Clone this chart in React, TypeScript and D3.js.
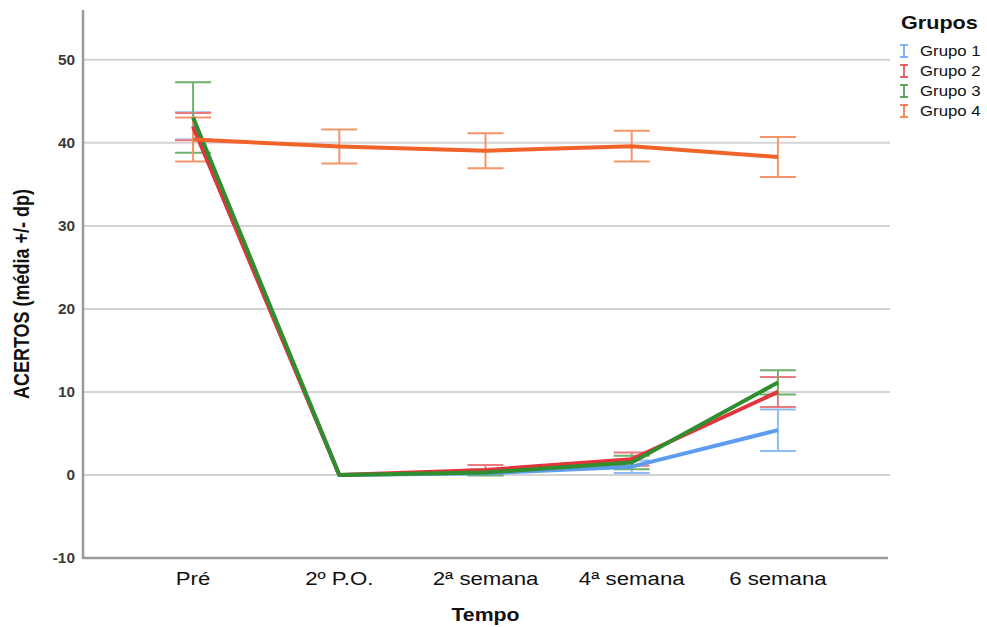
import React from "react";
import * as d3 from "d3";

const categories = ["Pré", "2º P.O.", "2ª semana", "4ª semana", "6 semana"];
const groups = ["Grupo 1", "Grupo 2", "Grupo 3", "Grupo 4"];
const colors = ["#5e9ded", "#e2343c", "#2f8f2f", "#f0642a"];
const errColors = ["#8fbcf3", "#ec7a80", "#6fb06f", "#f6956a"];

const grupo1Mean = [42.05, 0, 0.2, 1.0, 5.4];
const grupo1Sd = [1.65, 0, 0.2, 0.75, 2.5];
const grupo2Mean = [41.95, 0, 0.6, 1.9, 10.0];
const grupo2Sd = [1.65, 0, 0.6, 0.8, 1.8];
const grupo3Mean = [43.05, 0, 0.3, 1.5, 11.15];
const grupo3Sd = [4.25, 0, 0.35, 0.8, 1.45];
const grupo4Mean = [40.4, 39.55, 39.05, 39.6, 38.3];
const grupo4Sd = [2.65, 2.05, 2.1, 1.85, 2.4];

const yTicks = [-10, 0, 10, 20, 30, 40, 50];

const means = [grupo1Mean, grupo2Mean, grupo3Mean, grupo4Mean];
const sds = [grupo1Sd, grupo2Sd, grupo3Sd, grupo4Sd];

function SText(props: {
  x: number; y: number; sx: number; size: number; anchor?: string; weight?: any; fill?: string; dy?: string; children: any;
}) {
  return (
    <text
      transform={`translate(${props.x},${props.y}) scale(${props.sx},1)`}
      textAnchor={props.anchor || "start"}
      fontSize={props.size}
      fontWeight={props.weight || "normal"}
      fill={props.fill || "#111"}
      dy={props.dy}
    >
      {props.children}
    </text>
  );
}

export default function App() {
  const W = 987, H = 627;
  const left = 83, right = 888, top = 10, bottom = 558;
  const x = d3.scalePoint<string>().domain(categories).range([left, right]).padding(0.753);
  const y = d3.scaleLinear().domain([-10, 56]).range([bottom, top]);
  const line = d3.line<number>().x((_, i) => x(categories[i])!).y((d) => y(d));
  const font = "'Liberation Sans', Arial, Helvetica, sans-serif";
  const capHalf = 18;

  return (
    <svg width={W} height={H} style={{ position: "absolute", left: 0, top: 0, background: "#fff" }} fontFamily={font}>
      {yTicks.filter((t) => t !== -10).map((t) => (
        <line key={t} x1={left} x2={right + 2} y1={y(t)} y2={y(t)} stroke="#d4d4d4" strokeWidth={2} />
      ))}
      {yTicks.map((t) => (
        <SText key={t} x={left - 8} y={y(t)} sx={1.1} size={14} anchor="end" weight="bold" fill="#3a3a3a" dy="0.36em">
          {t}
        </SText>
      ))}
      <line x1={left} x2={left} y1={top} y2={bottom + 1} stroke="#9a9a9a" strokeWidth={2.5} />
      <line x1={left} x2={right} y1={bottom} y2={bottom} stroke="#9a9a9a" strokeWidth={2.5} />
      {categories.map((c) => (
        <SText key={c} x={x(c)!} y={585} sx={1.17} size={19} anchor="middle">
          {c}
        </SText>
      ))}
      <SText x={x(categories[2])!} y={621} sx={1.12} size={19} anchor="middle" weight="bold">
        Tempo
      </SText>
      <text
        transform={`translate(29, ${(y(-10) + y(56)) / 2 + 10}) scale(1.2,1) rotate(-90)`}
        textAnchor="middle"
        fontSize={18}
        fontWeight="bold"
        fill="#111"
      >
        ACERTOS (média +/- dp)
      </text>
      {means.map((m, gi) => (
        <g key={gi}>
          {m.map((v, i) => {
            const sd = sds[gi][i];
            if (sd === 0) return null;
            const cx = x(categories[i])!;
            return (
              <g key={i} stroke={errColors[gi]} strokeWidth={2}>
                <line x1={cx} x2={cx} y1={y(v + sd)} y2={y(v - sd)} />
                <line x1={cx - capHalf} x2={cx + capHalf} y1={y(v + sd)} y2={y(v + sd)} />
                <line x1={cx - capHalf} x2={cx + capHalf} y1={y(v - sd)} y2={y(v - sd)} />
              </g>
            );
          })}
        </g>
      ))}
      {means.map((m, gi) => (
        <path key={gi} d={line(m)!} fill="none" stroke={colors[gi]} strokeWidth={4} strokeLinejoin="round" />
      ))}
      <SText x={901} y={29} sx={1.2} size={18} weight="bold">
        Grupos
      </SText>
      {groups.map((g, i) => {
        const ly = 51 + i * 20;
        return (
          <g key={g}>
            <g stroke={colors[i]} strokeWidth={1.5}>
              <line x1={904} x2={904} y1={ly - 6} y2={ly + 6} />
              <line x1={900} x2={908} y1={ly - 6} y2={ly - 6} />
              <line x1={900} x2={908} y1={ly + 6} y2={ly + 6} />
            </g>
            <SText x={920} y={ly} sx={1.12} size={15} dy="0.36em">
              {g}
            </SText>
          </g>
        );
      })}
    </svg>
  );
}
